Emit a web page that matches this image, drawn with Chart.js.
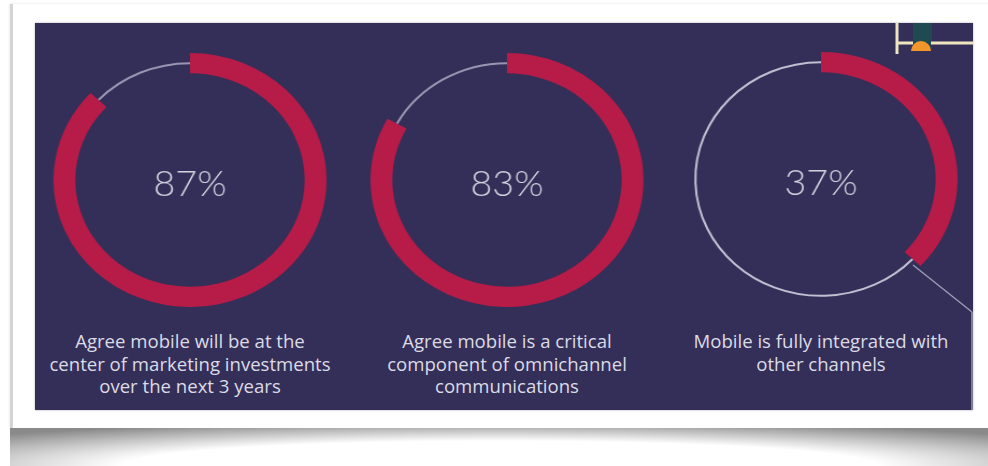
<!DOCTYPE html>
<html>
<head>
<meta charset="utf-8">
<script src="https://cdn.jsdelivr.net/npm/chart.js@4"></script>
<style>
  html, body { margin: 0; padding: 0; background: #fff; }
  body { width: 988px; height: 466px; position: relative; overflow: hidden; font-family: "Open Sans", sans-serif; }
  #card { position: absolute; left: 10px; top: 4px; width: 980px; height: 424px; background: #fff;
          border-left: 3px solid #d4d4d4; box-shadow: 0 0 3px rgba(0,0,0,0.12); }
  #shadow { position: absolute; left: 10px; top: 428px; width: 980px; height: 38px;
            background: radial-gradient(ellipse 70% 120% at 50% 100%, #fff 55%, #8a8a8a 100%); }
  #panel { position: absolute; left: 35px; top: 23px; width: 938px; height: 387px; background: #342f58;
           box-shadow: 0 0 2px rgba(0,0,0,0.35); }
  .wrap { position: absolute; width: 254px; height: 254px; transform: scaleX(1.075); }
  .label { position: absolute; width: 320px; text-align: center; color: #dcdbe6; font-size: 17.3px; line-height: 22.5px;
           transform: scaleX(1.075); }
  #deco { position: absolute; left: 0; top: 0; }
</style>
</head>
<body>
<div id="card"></div>
<div id="shadow"></div>
<div id="panel"></div>
<div class="wrap" style="left:63px;top:53px"><canvas id="c0" width="254" height="254"></canvas></div>
<div class="wrap" style="left:380px;top:53px"><canvas id="c1" width="254" height="254"></canvas></div>
<div class="wrap" style="left:694px;top:52px"><canvas id="c2" width="254" height="254"></canvas></div>
<div class="label" style="left:30px;top:331px" id="l0"></div>
<div class="label" style="left:347px;top:331px" id="l1"></div>
<div class="label" style="left:661px;top:331px" id="l2"></div>
<svg id="deco" width="988" height="466">
  <line x1="913" y1="265" x2="972" y2="312" stroke="#9c98b4" stroke-width="1.5"/>
  <line x1="972" y1="312" x2="972" y2="410" stroke="#9c98b4" stroke-width="1.5"/>
  <rect x="913" y="23" width="19" height="27" fill="#1f4a52"/>
  <path d="M911 51 A 10 10 0 0 1 931 51 Z" fill="#f0962a"/>
  <line x1="897" y1="23" x2="897" y2="54" stroke="#efe6c0" stroke-width="3"/>
  <line x1="898" y1="43" x2="913" y2="43" stroke="#efe6c0" stroke-width="3"/>
  <line x1="931" y1="43" x2="973" y2="43" stroke="#efe6c0" stroke-width="3"/>
</svg>
<script>
// valores
const porcentajes = [87, 83, 37];
const etiquetas = [
  ["Agree mobile will be at the", "center of marketing investments", "over the next 3 years"],
  ["Agree mobile is a critical", "component of omnichannel", "communications"],
  ["Mobile is fully integrated with", "other channels"]
];
const colorLinea = ["#9a96b2", "#9a96b2", "#c2bfd2"];

// línea delgada del resto + texto central
const anilloPlugin = {
  id: "anillo",
  beforeDatasetsDraw(chart) {
    const arc = chart.getDatasetMeta(0).data[1];
    const ctx = chart.ctx;
    const r = (arc.innerRadius + arc.outerRadius) / 2;
    ctx.save();
    ctx.beginPath();
    ctx.arc(arc.x, arc.y, r, arc.startAngle, arc.endAngle);
    ctx.strokeStyle = chart.options.plugins.anillo.color;
    ctx.lineWidth = 2;
    ctx.stroke();
    ctx.restore();
  },
  afterDatasetsDraw(chart) {
    const arc = chart.getDatasetMeta(0).data[0];
    const ctx = chart.ctx;
    ctx.save();
    ctx.fillStyle = "#d2d1de";
    ctx.font = "300 35px Lato, 'Open Sans', sans-serif";
    ctx.textAlign = "center";
    ctx.textBaseline = "middle";
    ctx.fillText(chart.data.datasets[0].data[0] + "%", arc.x, arc.y + 5);
    ctx.restore();
  }
};

porcentajes.forEach((p, i) => {
  new Chart(document.getElementById("c" + i), {
    type: "doughnut",
    data: {
      labels: ["si", "resto"],
      datasets: [{
        data: [p, 100 - p],
        backgroundColor: ["#b71c48", "rgba(0,0,0,0)"],
        borderWidth: 0
      }]
    },
    options: {
      responsive: false,
      animation: false,
      cutout: "84%",
      layout: { padding: 0 },
      plugins: {
        legend: { display: false },
        tooltip: { enabled: false },
        anillo: { color: colorLinea[i] }
      }
    },
    plugins: [anilloPlugin]
  });
  document.getElementById("l" + i).innerHTML = etiquetas[i].join("<br>");
});
</script>
</body>
</html>
